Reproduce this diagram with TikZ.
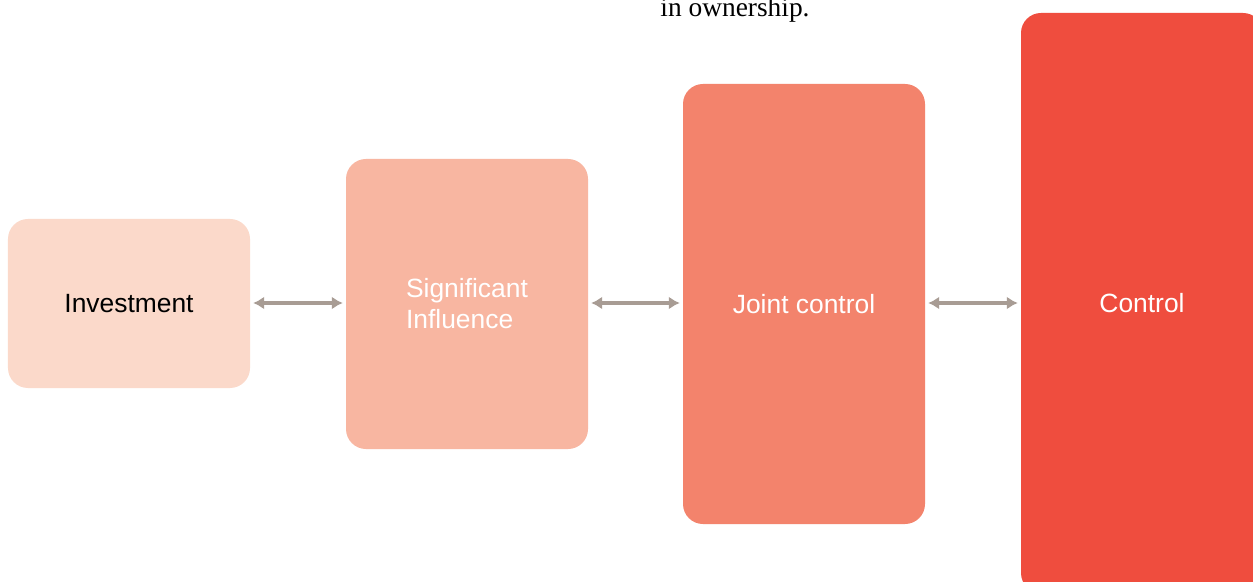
\documentclass[tikz,border=0pt]{standalone}
\usepackage{fontspec}
\setmainfont{Liberation Sans}
\newfontfamily\serifnote{Liberation Serif}
\usetikzlibrary{arrows.meta}
\definecolor{cinv}{RGB}{251,217,202}
\definecolor{csig}{RGB}{248,182,161}
\definecolor{cjoint}{RGB}{243,131,108}
\definecolor{cctrl}{RGB}{239,77,62}
\definecolor{carrow}{RGB}{168,156,148}
\tikzset{
  stage/.style={rectangle, rounded corners=20bp, minimum width=242bp, inner sep=0pt,
    font=\fontsize{26.5}{31}\selectfont, align=left, text=white},
  conn/.style={draw=carrow, line width=3.3bp, {Latex[length=11bp,width=13bp]}-{Latex[length=11bp,width=13bp]},
    shorten <=3bp, shorten >=3bp}
}
\begin{document}
\begin{tikzpicture}[x=1bp,y=-1bp]
\useasboundingbox (0,0) rectangle (1253,582);
\clip (0,0) rectangle (1253,582);
\fill[white] (0,0) rectangle (1253,582);
\node[stage, fill=cinv, minimum height=169bp, text=black] (inv) at (129,303.5) {Investment};
\node[stage, fill=csig, minimum height=290bp] (sig) at (467,304) {Significant\\Influence};
\node[stage, fill=cjoint, minimum height=440bp] (joint) at (804,304) {Joint control};
\node[stage, fill=cctrl, minimum height=580bp] (ctrl) at (1142,303) {Control};
\node[anchor=base, font=\serifnote\fontsize{27.5}{32}\selectfont, inner sep=0pt] (note) at (735,17) {in ownership.};
\draw[conn] (inv.east |- 0,303) -- (sig.west |- 0,303);
\draw[conn] (sig.east |- 0,303) -- (joint.west |- 0,303);
\draw[conn] (joint.east |- 0,303) -- (ctrl.west |- 0,303);
\end{tikzpicture}
\end{document}
